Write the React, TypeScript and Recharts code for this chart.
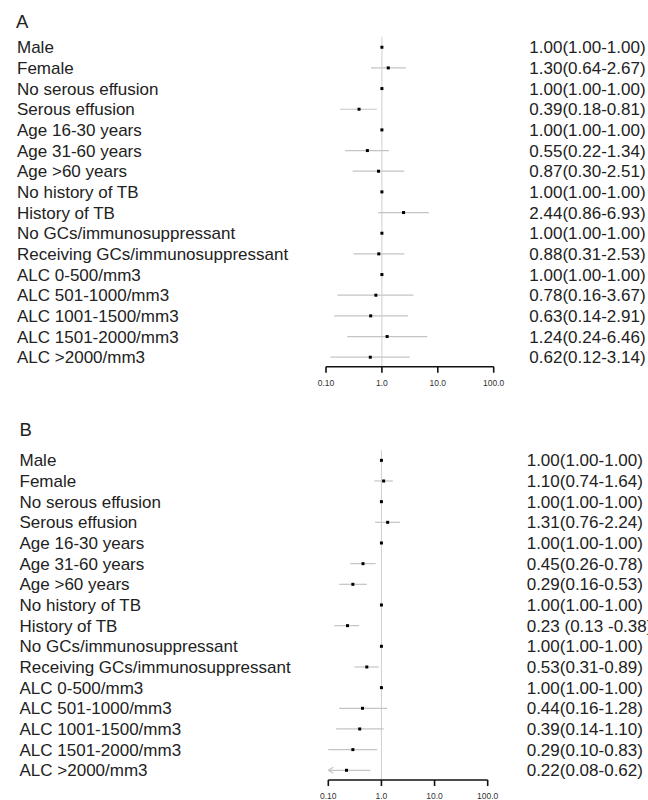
import React from 'react';
import { ScatterChart, Scatter, XAxis, YAxis, ErrorBar, ReferenceLine } from 'recharts';

const labels = [
  'Male', 'Female', 'No serous effusion', 'Serous effusion', 'Age 16-30 years', 'Age 31-60 years',
  'Age >60 years', 'No history of TB', 'History of TB', 'No GCs/immunosuppressant',
  'Receiving GCs/immunosuppressant', 'ALC 0-500/mm3', 'ALC 501-1000/mm3', 'ALC 1001-1500/mm3',
  'ALC 1501-2000/mm3', 'ALC >2000/mm3',
];

const orA = [1.0, 1.3, 1.0, 0.39, 1.0, 0.55, 0.87, 1.0, 2.44, 1.0, 0.88, 1.0, 0.78, 0.63, 1.24, 0.62];
const loA = [1.0, 0.64, 1.0, 0.18, 1.0, 0.22, 0.3, 1.0, 0.86, 1.0, 0.31, 1.0, 0.16, 0.14, 0.24, 0.12];
const hiA = [1.0, 2.67, 1.0, 0.81, 1.0, 1.34, 2.51, 1.0, 6.93, 1.0, 2.53, 1.0, 3.67, 2.91, 6.46, 3.14];
const textA = [
  '1.00(1.00-1.00)', '1.30(0.64-2.67)', '1.00(1.00-1.00)', '0.39(0.18-0.81)', '1.00(1.00-1.00)',
  '0.55(0.22-1.34)', '0.87(0.30-2.51)', '1.00(1.00-1.00)', '2.44(0.86-6.93)', '1.00(1.00-1.00)',
  '0.88(0.31-2.53)', '1.00(1.00-1.00)', '0.78(0.16-3.67)', '0.63(0.14-2.91)', '1.24(0.24-6.46)',
  '0.62(0.12-3.14)',
];

const orB = [1.0, 1.1, 1.0, 1.31, 1.0, 0.45, 0.29, 1.0, 0.23, 1.0, 0.53, 1.0, 0.44, 0.39, 0.29, 0.22];
const loB = [1.0, 0.74, 1.0, 0.76, 1.0, 0.26, 0.16, 1.0, 0.13, 1.0, 0.31, 1.0, 0.16, 0.14, 0.1, 0.08];
const hiB = [1.0, 1.64, 1.0, 2.24, 1.0, 0.78, 0.53, 1.0, 0.38, 1.0, 0.89, 1.0, 1.28, 1.1, 0.83, 0.62];
const textB = [
  '1.00(1.00-1.00)', '1.10(0.74-1.64)', '1.00(1.00-1.00)', '1.31(0.76-2.24)', '1.00(1.00-1.00)',
  '0.45(0.26-0.78)', '0.29(0.16-0.53)', '1.00(1.00-1.00)', '0.23 (0.13 -0.38)', '1.00(1.00-1.00)',
  '0.53(0.31-0.89)', '1.00(1.00-1.00)', '0.44(0.16-1.28)', '0.39(0.14-1.10)', '0.29(0.10-0.83)',
  '0.22(0.08-0.62)',
];

const xTicks = [0.1, 1, 10, 100];
const xTickLabels = ['0.10', '1.0', '10.0', '100.0'];
const X_MIN = 0.1;

const FONT = '"Liberation Sans", Arial, sans-serif';
const TEXT_COLOR = '#222';

function buildRows(or: number[], lo: number[], hi: number[]) {
  return or.map((v, i) => {
    const l = Math.max(lo[i], X_MIN);
    return { x: v, y: i, err: [v - l, hi[i] - v] };
  });
}

function buildArrows(lo: number[]) {
  return lo.map((l, i) => ({ x: X_MIN, y: i, clipped: l < X_MIN })).filter((d) => d.clipped);
}

const Dot = (props: any) => {
  const { cx, cy } = props;
  if (cx == null || cy == null) return null;
  return <rect x={cx - 1.5} y={cy - 1.5} width={3} height={3} fill="#000" />;
};

const Arrow = (props: any) => {
  const { cx, cy } = props;
  if (cx == null || cy == null) return null;
  return (
    <path d={`M${cx + 5},${cy - 3} L${cx},${cy} L${cx + 5},${cy + 3}`} stroke="#c4c4c4" strokeWidth={1.2} fill="none" />
  );
};

type PanelProps = {
  top: number;
  rows: any[];
  arrows: any[];
  texts: string[];
  leftW: number;
  rightW: number;
  mTop: number;
  mBottom: number;
  xH: number;
  domain: [number, number];
  labelX: number;
  valueX: number;
  tickMargin: number;
};

function Panel(p: PanelProps) {
  const renderTick = (tp: any) => {
    const { y, payload } = tp;
    const i = payload.value as number;
    return (
      <g>
        <text x={p.labelX} y={y} dy="0.36em" textAnchor="start" fontFamily={FONT} fontSize={17} fill={TEXT_COLOR}>
          {labels[i]}
        </text>
        <text x={p.valueX} y={y} dy="0.36em" textAnchor="start" fontFamily={FONT} fontSize={17} fill={TEXT_COLOR}>
          {p.texts[i]}
        </text>
      </g>
    );
  };
  return (
    <div style={{ position: 'absolute', left: 0, top: p.top }}>
      <ScatterChart
        width={648}
        height={400}
        margin={{ top: p.mTop, right: p.rightW, bottom: p.mBottom, left: 0 }}
      >
        <XAxis
          type="number"
          dataKey="x"
          scale="log"
          domain={[0.1, 100]}
          ticks={xTicks}
          allowDataOverflow
          interval={0}
          height={p.xH}
          tickFormatter={(v: number) => xTickLabels[xTicks.indexOf(v)] ?? String(v)}
          axisLine={{ stroke: '#111', strokeWidth: 1.6 }}
          tickLine={{ stroke: '#111', strokeWidth: 1.6 }}
          tickSize={6}
          tickMargin={p.tickMargin}
          tick={{ fontSize: 8.5, fill: '#333', fontFamily: FONT }}
        />
        <YAxis
          type="number"
          dataKey="y"
          domain={p.domain}
          reversed
          allowDataOverflow
          ticks={labels.map((_, i) => i)}
          interval={0}
          width={p.leftW}
          axisLine={false}
          tickLine={false}
          tick={renderTick}
        />
        <ReferenceLine x={1} stroke="#cfcfcf" strokeWidth={1} />
        <Scatter data={p.rows} shape={<Dot />} isAnimationActive={false}>
          <ErrorBar dataKey="err" direction="x" width={0} stroke="#c4c4c4" strokeWidth={1.2} />
        </Scatter>
        <Scatter data={p.arrows} shape={<Arrow />} isAnimationActive={false} />
      </ScatterChart>
    </div>
  );
}

export default function App() {
  const rowsA = buildRows(orA, loA, hiA);
  const rowsB = buildRows(orB, loB, hiB);
  const arrowsA = buildArrows(loA);
  const arrowsB = buildArrows(loB);
  return (
    <div style={{ position: 'absolute', left: 0, top: 0, width: 648, height: 800, background: '#fff', overflow: 'hidden' }}>
      <Panel
        top={0}
        rows={rowsA}
        arrows={arrowsA}
        texts={textA}
        leftW={326}
        rightW={154.3}
        mTop={36.7}
        mBottom={3.3}
        xH={30}
        domain={[-0.51, 15.46]}
        labelX={17}
        valueX={529.3}
        tickMargin={7.5}
      />
      <Panel
        top={400}
        rows={rowsB}
        arrows={arrowsB}
        texts={textB}
        leftW={328.3}
        rightW={160.3}
        mTop={50}
        mBottom={0}
        xH={20}
        domain={[-0.5, 15.47]}
        labelX={19.5}
        valueX={526.7}
        tickMargin={6.7}
      />
      <div style={{ position: 'absolute', left: 16, top: 12, fontFamily: FONT, fontSize: 18.5, lineHeight: '20px', color: TEXT_COLOR }}>A</div>
      <div style={{ position: 'absolute', left: 19.5, top: 420, fontFamily: FONT, fontSize: 18.5, lineHeight: '20px', color: TEXT_COLOR }}>B</div>
    </div>
  );
}
